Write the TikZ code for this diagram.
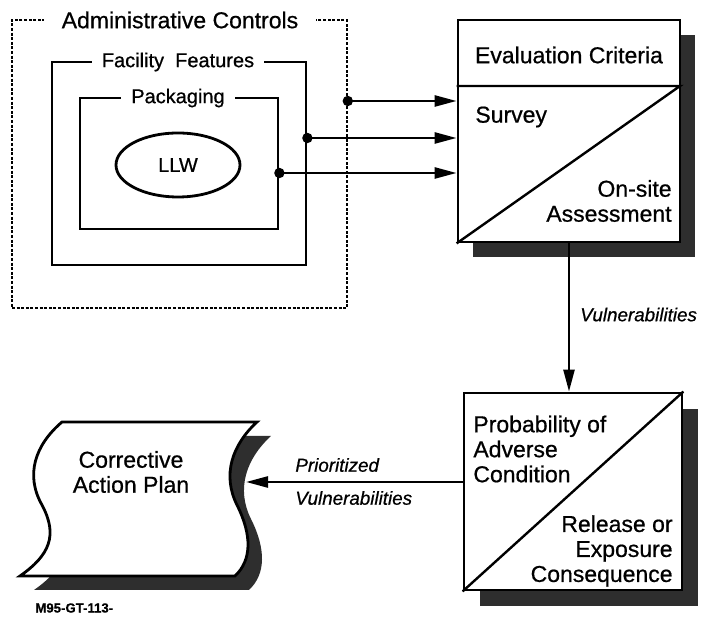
\documentclass[tikz,border=0pt]{standalone}
\usepackage{fontspec}
\setmainfont{Liberation Sans}[FakeBold=0.7]
\usetikzlibrary{arrows.meta,shapes.geometric}

\tikzset{
  frame/.style={draw,line width=1.4pt,inner sep=0pt},
  admin/.style={draw,line width=0.8pt,dash pattern=on 1.5pt off 0.8pt,inner sep=0pt},
  ttl/.style={fill=white,inner xsep=5pt,inner ysep=1pt,font=\fontsize{10}{12}\selectfont},
  txt/.style={inner sep=0pt,font=\fontsize{11.5}{12.5}\selectfont},
  lbl/.style={inner sep=0pt,font=\fontsize{9.4}{11}\selectfont\itshape},
  shade/.style={fill=black!82,draw=none},
  planface/.style={frame,fill=white},
  arr/.style={line width=1.25pt,-{Triangle[length=11pt,width=5.5pt]}},
}

\begin{document}
\begin{tikzpicture}[x=0.5pt,y=-0.5pt]
  \useasboundingbox (0,0) rectangle (703,619);

  % nested frames
  \node[admin,minimum width=167.5pt,minimum height=144pt] (admin) at (179.5,164) {};
  \node[frame,minimum width=127pt,minimum height=101.5pt] (fac) at (179,163.5) {};
  \node[frame,minimum width=99pt,minimum height=65.5pt] (pack) at (179,163.5) {};
  \node[frame,ellipse,minimum width=62pt,minimum height=32pt,font=\fontsize{10}{12}\selectfont] (llw) at (178,165) {LLW};
  \node[ttl,inner xsep=9pt,font=\fontsize{11.5}{13}\selectfont] (admtitle) at (180,20) {Administrative Controls};
  \node[ttl] (factitle) at (178,62) {Facility\ \ Features};
  \node[ttl] (packtitle) at (178,98) {Packaging};

  % evaluation box
  \fill[shade] (473,35) rectangle (695,257);
  \node[frame,fill=white,minimum width=111pt,minimum height=111pt] (eval) at (569,131) {};
  \coordinate (evdiv) at (680,86);
  \draw[line width=1.2pt] (eval.west |- evdiv) -- (evdiv) -- (eval.south west);
  \node[txt] (evtitle) at (569,55) {Evaluation Criteria};
  \node[txt,anchor=west] (survey) at (475,117) {Survey};
  \node[txt,anchor=east,align=right] (onsite) at (672,201) {On-site\\Assessment};

  \foreach \y/\src in {101/admin,138/fac,173/pack} {
    \fill (\src.east |- 0,\y) circle (2.6pt);
    \draw[arr] (\src.east |- 0,\y) -- (eval.west |- 0,\y);
  }

  % probability box
  \fill[shade] (480,409) rectangle (698,606);
  \node[frame,fill=white,minimum width=109pt,minimum height=98.5pt] (prob) at (573,491.5) {};
  \draw[line width=1.2pt] (prob.south west) -- (prob.north east);
  \node[txt,anchor=west,align=left] (probtxt) at (473,449) {Probability of\\Adverse\\Condition};
  \node[txt,anchor=east,align=right] (reltxt) at (673,551) {Release or\\Exposure\\Consequence};

  \draw[arr] (eval.south) -- (eval.south |- prob.north) node[lbl,pos=0.48,right=5pt] (vuln) {Vulnerabilities};

  % corrective action plan
  \foreach \d/\sty in {14/shade,0/planface} {
    \path[\sty,shift={(\d,\d)}] (62,422) -- (257,422)
      .. controls (232,445) and (222,475) .. (237,505)
      .. controls (252,535) and (252,560) .. (235,576) -- (20,576)
      .. controls (50,555) and (58,535) .. (42,505)
      .. controls (25,475) and (35,445) .. (62,422) -- cycle;
  }
  \node[txt,align=center] (plan) at (131,472) {Corrective\\Action Plan};
  \coordinate (plantip) at (246,482);
  \draw[arr] (prob.west |- plantip) -- (plantip);
  \node[lbl,anchor=west] (prio) at (295,465) {Prioritized};
  \node[lbl,anchor=west] (priovuln) at (295,498) {Vulnerabilities};

  \node[inner sep=0pt,anchor=west,font=\fontsize{6.6}{8}\selectfont\bfseries] (code) at (35,608) {M95-GT-113-};
\end{tikzpicture}
\end{document}
